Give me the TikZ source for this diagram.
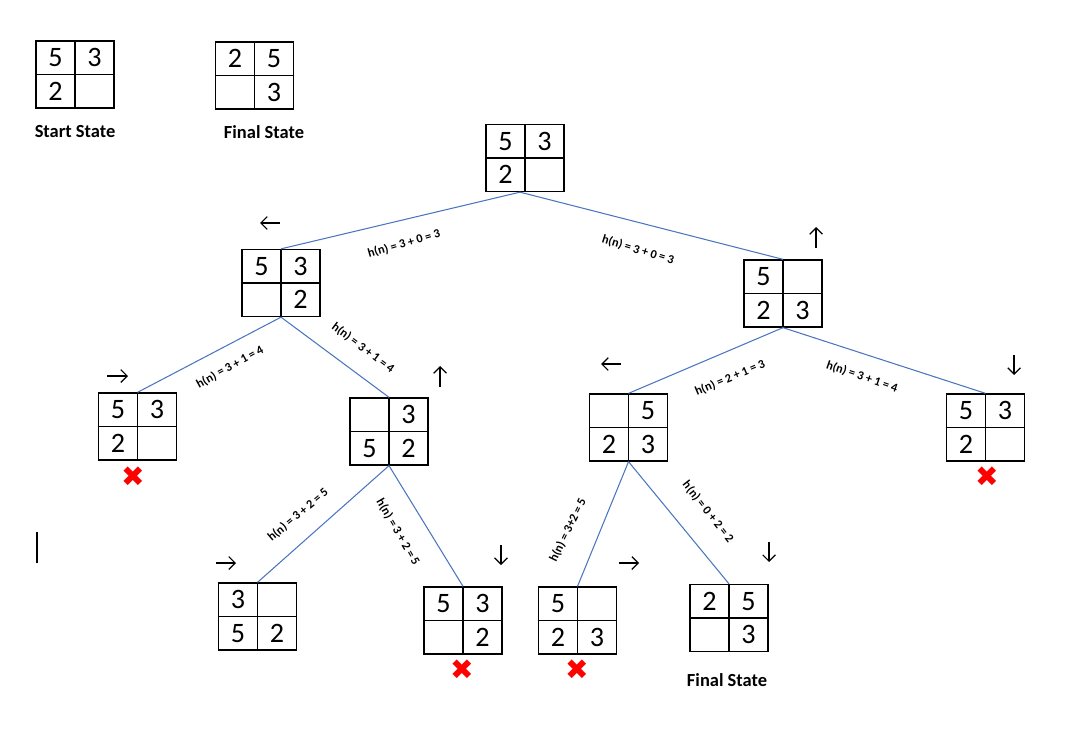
\documentclass[tikz,border=0pt]{standalone}
\usepackage{fontspec}
\setmainfont{Carlito}
\newfontfamily\symfont{DejaVu Sans}
\usetikzlibrary{matrix,arrows.meta}
\definecolor{branchblue}{HTML}{4A76C0}
\tikzset{
  puzzle/.style={matrix of nodes, nodes in empty cells, line width=0.75pt,
    inner sep=0pt, outer sep=0pt,
    column sep=-\pgflinewidth, row sep=-\pgflinewidth,
    nodes={draw, minimum width=0.78cm, minimum height=0.67cm, inner sep=0pt,
      anchor=center, font=\fontsize{16}{16}\selectfont}},
  branch/.style={draw=branchblue, line width=0.6pt},
  hlabel/.style={font=\bfseries\fontsize{7}{7}\selectfont, inner sep=0pt},
  move/.style={line width=0.7pt, -{Straight Barb[length=3.6pt,width=7.2pt]}},
  title/.style={font=\bfseries\fontsize{10.5}{10.5}\selectfont, inner sep=0pt},
  cross/.style={text=red, font=\symfont\fontsize{16}{16}\selectfont, inner sep=0pt},
}
\begin{document}
\begin{tikzpicture}[x=0.02cm, y=-0.02cm]
  \useasboundingbox (0,0) rectangle (1091,737);

  % start and final state
  \matrix (start) [puzzle] at (75,74.5) {5 & 3 \\ 2 & \\};
  \matrix (goal) [puzzle] at (254.5,75.5) {2 & 5 \\ & 3 \\};
  \node[title] (startlbl) at (75,132) {Start State};
  \node[title] (goallbl) at (264,132) {Final State};

  % search tree
  \matrix (root) [puzzle] at (525,158) {5 & 3 \\ 2 & \\};

  \matrix (nL) [puzzle] at (281,283) {5 & 3 \\ & 2 \\};
  \matrix (nR) [puzzle] at (783,293.5) {5 & \\ 2 & 3 \\};

  \matrix (nLL) [puzzle] at (137.5,426.5) {5 & 3 \\ 2 & \\};
  \matrix (nLR) [puzzle] at (389,431.5) {& 3 \\ 5 & 2 \\};
  \matrix (nRL) [puzzle] at (628.5,427.5) {& 5 \\ 2 & 3 \\};
  \matrix (nRR) [puzzle] at (985.5,427.5) {5 & 3 \\ 2 & \\};

  \matrix (nLRL) [puzzle] at (257.5,616.5) {3 & \\ 5 & 2 \\};
  \matrix (nLRR) [puzzle] at (463,620.5) {5 & 3 \\ & 2 \\};
  \matrix (nRLL) [puzzle] at (577.5,620.5) {5 & \\ 2 & 3 \\};
  \matrix (nRLR) [puzzle] at (729,618) {2 & 5 \\ & 3 \\};
  \node[title] (finallbl) at (727,680) {Final State};

  % branches
  \draw[branch] ([xshift=-0.1cm]root.south) -- (nL.north);
  \draw[branch] ([xshift=-0.1cm]root.south) -- (nR.north);
  \draw[branch] (nL.south) -- (nLL.north);
  \draw[branch] (nL.south) -- (nLR.north);
  \draw[branch] (nR.south) -- (nRL.north);
  \draw[branch] (nR.south) -- (nRR.north);
  \draw[branch] (nLR.south) -- (nLRL.north);
  \draw[branch] (nLR.south) -- (nLRR.north);
  \draw[branch] (nRL.south) -- (nRLL.north);
  \draw[branch] (nRL.south) -- (nRLR.north);

  % heuristic values
  \node[hlabel, rotate=16] (h1) at (404,244) {h(n) = 3 + 0 = 3};
  \node[hlabel, rotate=-17] (h2) at (638,250) {h(n) = 3 + 0 = 3};
  \node[hlabel, rotate=29] (h3) at (230,367) {h(n) = 3 + 1 = 4};
  \node[hlabel, rotate=-37] (h4) at (363,348) {h(n) = 3 + 1 = 4};
  \node[hlabel, rotate=23] (h5) at (730,378) {h(n) = 2 + 1 = 3};
  \node[hlabel, rotate=-19] (h6) at (862,377) {h(n) = 3 + 1 = 4};
  \node[hlabel, rotate=40] (h7) at (298,515) {h(n) = 3 + 2 = 5};
  \node[hlabel, rotate=-60] (h8) at (398,532) {h(n) = 3 + 2 = 5};
  \node[hlabel, rotate=64] (h9) at (568,530) {h(n) = 3+2 = 5};
  \node[hlabel, rotate=-52] (h10) at (708,512) {h(n) = 0 + 2 = 2};

  % moves of the blank
  \draw[move] (280,223) -- (260,223);
  \draw[move] (816,248) -- (816,227);
  \draw[move] (107,376) -- (128,376);
  \draw[move] (440,387) -- (440,366);
  \draw[move] (621,364) -- (601,364);
  \draw[move] (1014,355) -- (1014,375);
  \draw[move] (216,563) -- (236,563);
  \draw[move] (501,545) -- (501,565);
  \draw[move] (619,563) -- (639,563);
  \draw[move] (769,542) -- (769,562);

  % rejected states
  \node[cross] (x1) at (133,477) {✖};
  \node[cross] (x2) at (987,477) {✖};
  \node[cross] (x3) at (462,670) {✖};
  \node[cross] (x4) at (577,670) {✖};

  \draw[line width=0.6pt] (37,532) -- (37,563);
\end{tikzpicture}
\end{document}
